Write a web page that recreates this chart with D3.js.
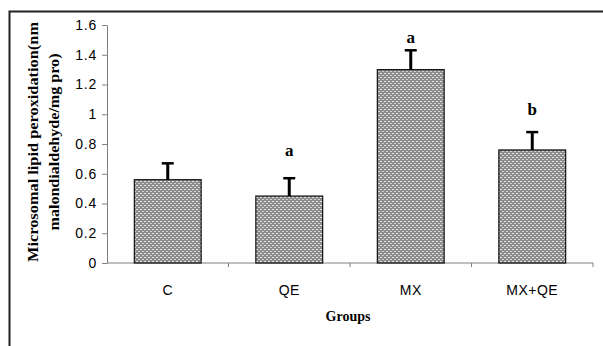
<!DOCTYPE html>
<html>
<head>
<meta charset="utf-8">
<script src="https://cdn.jsdelivr.net/npm/d3@7"></script>
<style>
  body { margin: 0; background: #fff; }
  svg text { font-family: "Liberation Sans", Arial, sans-serif; }
</style>
</head>
<body>
<div id="chart"></div>
<script>
// chart data
const groups = ["C", "QE", "MX", "MX+QE"];
const means = [0.56, 0.45, 1.30, 0.76];
const errors = [0.11, 0.12, 0.13, 0.12];
const letters = ["", "a", "a", "b"];
const letterPos = [0, 0.75, 1.51, 1.03];
const yTicks = [0, 0.2, 0.4, 0.6, 0.8, 1, 1.2, 1.4, 1.6];

const width = 603, height = 346;
const margin = {top: 25, left: 107, right: 10, bottom: 83};
const serif = "'Liberation Serif', 'Times New Roman', serif";

let svg = d3.select("#chart").append("svg")
    .attr("width", width)
    .attr("height", height);

// hatch pattern for bars
let defs = svg.append("defs");
let pat = defs.append("pattern")
    .attr("id", "dots")
    .attr("patternUnits", "userSpaceOnUse")
    .attr("width", 4)
    .attr("height", 4);
pat.append("rect").attr("width", 4).attr("height", 4).attr("fill", "#8c8c8c");
pat.append("rect").attr("x", 0).attr("y", 1).attr("width", 2).attr("height", 1).attr("fill", "#e6e6e6");
pat.append("rect").attr("x", 2).attr("y", 3).attr("width", 2).attr("height", 1).attr("fill", "#d0d0d0");

// outer frame (top + left only visible)
svg.append("path")
    .attr("d", "M9.5," + height + "V11.5H" + width)
    .attr("fill", "none")
    .attr("stroke", "#222")
    .attr("stroke-width", 2);

let x = d3.scaleBand()
    .domain(groups)
    .range([margin.left, width - margin.right])
    .paddingInner(0.45)
    .paddingOuter(0.225);

let y = d3.scaleLinear()
    .domain([0, 1.6])
    .range([height - margin.bottom, margin.top]);

// y axis
let yAxis = svg.append("g")
    .attr("transform", "translate(" + margin.left + ",0)")
    .call(d3.axisLeft(y).tickValues(yTicks).tickSize(5).tickSizeOuter(0).tickFormat(d3.format("")));
yAxis.select(".domain").attr("stroke", "#808080");
yAxis.selectAll(".tick line").attr("stroke", "#808080");
yAxis.selectAll(".tick text")
    .attr("x", -10)
    .style("font-size", "14px")
    .style("letter-spacing", "0.8px")
    .attr("fill", "#000");

// x axis with ticks at band edges
let xAxisG = svg.append("g")
    .attr("transform", "translate(0," + y(0) + ")");
xAxisG.append("line")
    .attr("x1", margin.left).attr("x2", width - margin.right)
    .attr("stroke", "#808080");
let edges = d3.range(1, groups.length + 1).map(i => margin.left + i * (width - margin.right - margin.left) / groups.length);
xAxisG.selectAll(".xt")
    .data(edges)
    .enter().append("line")
    .attr("x1", d => d).attr("x2", d => d)
    .attr("y1", 0).attr("y2", 4)
    .attr("stroke", "#808080");
xAxisG.selectAll(".xl")
    .data(groups)
    .enter().append("text")
    .attr("x", d => x(d) + x.bandwidth() / 2)
    .attr("y", 32)
    .attr("text-anchor", "middle")
    .style("font-size", "14px")
    .style("letter-spacing", "0.5px")
    .text(d => d);

// bars
svg.selectAll(".bar")
    .data(groups)
    .enter().append("rect")
    .attr("x", d => x(d))
    .attr("y", (d, i) => y(means[i]))
    .attr("width", x.bandwidth())
    .attr("height", (d, i) => y(0) - y(means[i]))
    .attr("fill", "url(#dots)")
    .attr("stroke", "#111")
    .attr("stroke-width", 1.2);

// error bars (upper only)
let eb = svg.selectAll(".err")
    .data(groups)
    .enter().append("g");
eb.append("line")
    .attr("x1", d => x(d) + x.bandwidth() / 2)
    .attr("x2", d => x(d) + x.bandwidth() / 2)
    .attr("y1", (d, i) => y(means[i]))
    .attr("y2", (d, i) => y(means[i] + errors[i]))
    .attr("stroke", "#000")
    .attr("stroke-width", 3);
eb.append("line")
    .attr("x1", d => x(d) + x.bandwidth() / 2 - 6)
    .attr("x2", d => x(d) + x.bandwidth() / 2 + 6)
    .attr("y1", (d, i) => y(means[i] + errors[i]))
    .attr("y2", (d, i) => y(means[i] + errors[i]))
    .attr("stroke", "#000")
    .attr("stroke-width", 2.5);

// significance letters
svg.selectAll(".sig")
    .data(groups)
    .enter().append("text")
    .attr("x", d => x(d) + x.bandwidth() / 2)
    .attr("y", (d, i) => y(letterPos[i]) + 5)
    .attr("text-anchor", "middle")
    .style("font-family", serif)
    .style("font-weight", "bold")
    .style("font-size", "17px")
    .text((d, i) => letters[i]);

// axis titles
svg.append("text")
    .attr("x", 348)
    .attr("y", 321)
    .attr("text-anchor", "middle")
    .style("font-family", serif)
    .style("font-weight", "bold")
    .style("font-size", "14px")
    .text("Groups");

let yt = svg.append("text")
    .attr("transform", "translate(38,142) rotate(-90)")
    .attr("text-anchor", "middle")
    .style("font-family", serif)
    .style("font-weight", "bold")
    .style("font-size", "14px");
yt.append("tspan").attr("x", 0).attr("dy", 0)
    .attr("textLength", 240).attr("lengthAdjust", "spacingAndGlyphs")
    .text("Microsomal lipid peroxidation(nm");
yt.append("tspan").attr("x", 0).attr("dy", 21)
    .attr("textLength", 177).attr("lengthAdjust", "spacingAndGlyphs")
    .text("malondialdehyde/mg pro)");
</script>
</body>
</html>
